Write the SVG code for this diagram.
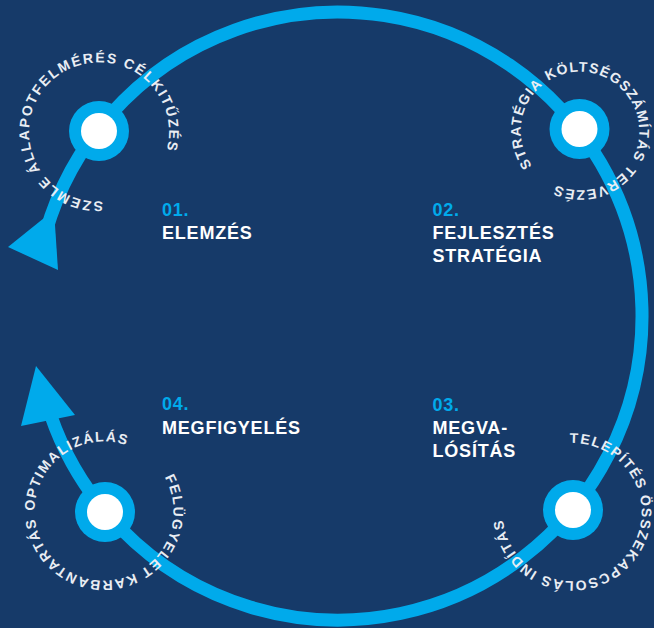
<svg xmlns="http://www.w3.org/2000/svg" width="654" height="628" viewBox="0 0 654 628">
  <defs>
    <style>
      .ring { fill: #00aaeb; }
      .hole { fill: #ffffff; }
      .arc { fill: none; stroke: #00aaeb; stroke-width: 13; }
      .head { fill: #00aaeb; }
      .curve { font-family: "Liberation Sans", Arial, sans-serif; font-weight: bold; font-size: 14px; fill: #e9edf3; }
      .num { font-family: "Liberation Sans", Arial, sans-serif; font-weight: bold; font-size: 18px; fill: #00aaeb; letter-spacing: 0.8px; }
      .title { font-family: "Liberation Sans", Arial, sans-serif; font-weight: bold; font-size: 18px; fill: #ffffff; letter-spacing: 0.8px; }
    </style>
    <path id="c1" d="M102.88,201.39 A69.5,69.5 0 1 1 95.12,62.61 A69.5,69.5 0 1 1 102.88,201.39"/>
    <path id="c2" d="M532.27,165.68 A59,59 0 1 1 627.73,96.32 A59,59 0 1 1 532.27,165.68"/>
    <path id="c3" d="M569.71,443.04 A69,69 0 1 1 574.29,580.96 A69,69 0 1 1 569.71,443.04"/>
    <path id="c4" d="M164.67,477.09 A69.5,69.5 0 1 1 43.33,544.91 A69.5,69.5 0 1 1 164.67,477.09"/>
  </defs>
  <rect width="654" height="628" fill="#163a69"/>
  <g id="connectors">
    <path class="arc" d="M45.8,232.2 A304,304 0 1 1 50.6,415.0"/>
    <polygon class="head" points="54,210 8,247 58,270"/>
    <polygon class="head" points="36,366 75,415 21,426"/>
  </g>
  <g id="node1">
    <circle class="ring" cx="99" cy="131" r="30"/>
    <circle class="hole" cx="99" cy="131" r="18"/>
    <text class="curve" letter-spacing="1.73"><textPath href="#c1" startOffset="0">SZEMLE</textPath></text>
    <text class="curve" letter-spacing="1.73"><textPath href="#c1" startOffset="72.78">ÁLLAPOTFELMÉRÉS</textPath></text>
    <text class="curve" letter-spacing="1.73"><textPath href="#c1" startOffset="246.69">CÉLKITŰZÉS</textPath></text>
    <text class="num" x="162" y="216">01.</text>
    <text class="title" x="162" y="239">ELEMZÉS</text>
  </g>
  <g id="node2">
    <circle class="ring" cx="579.5" cy="129" r="30"/>
    <circle class="hole" cx="579.5" cy="129" r="18"/>
    <text class="curve" letter-spacing="1.18"><textPath href="#c2" startOffset="0">STRATÉGIA</textPath></text>
    <text class="curve" letter-spacing="1.18"><textPath href="#c2" startOffset="96.58">KÖLTSÉGSZÁMÍTÁS</textPath></text>
    <text class="curve" letter-spacing="1.18"><textPath href="#c2" startOffset="258.58">TERVEZÉS</textPath></text>
    <text class="num" x="432.5" y="216">02.</text>
    <text class="title" x="432.5" y="239">FEJLESZTÉS</text>
    <text class="title" x="432.5" y="261.5">STRATÉGIA</text>
  </g>
  <g id="node3">
    <circle class="ring" cx="573" cy="510" r="30"/>
    <circle class="hole" cx="573" cy="510" r="18"/>
    <text class="curve" letter-spacing="1.45"><textPath href="#c3" startOffset="0">TELEPÍTÉS</textPath></text>
    <text class="curve" letter-spacing="1.45"><textPath href="#c3" startOffset="94.63">ÖSSZEKAPCSOLÁS</textPath></text>
    <text class="curve" letter-spacing="1.45"><textPath href="#c3" startOffset="255.62">INDÍTÁS</textPath></text>
    <text class="num" x="432.5" y="411">03.</text>
    <text class="title" x="432.5" y="433.5">MEGVA-</text>
    <text class="title" x="432.5" y="456.5">LÓSÍTÁS</text>
  </g>
  <g id="node4">
    <circle class="ring" cx="105" cy="512" r="30"/>
    <circle class="hole" cx="105" cy="512" r="18"/>
    <text class="curve" letter-spacing="1.48"><textPath href="#c4" startOffset="0">FELÜGYELET</textPath></text>
    <text class="curve" letter-spacing="1.48"><textPath href="#c4" startOffset="112.74">KARBANTARTÁS</textPath></text>
    <text class="curve" letter-spacing="1.48"><textPath href="#c4" startOffset="253.29">OPTIMALIZÁLÁS</textPath></text>
    <text class="num" x="162" y="410">04.</text>
    <text class="title" x="162" y="433.5">MEGFIGYELÉS</text>
  </g>
</svg>
